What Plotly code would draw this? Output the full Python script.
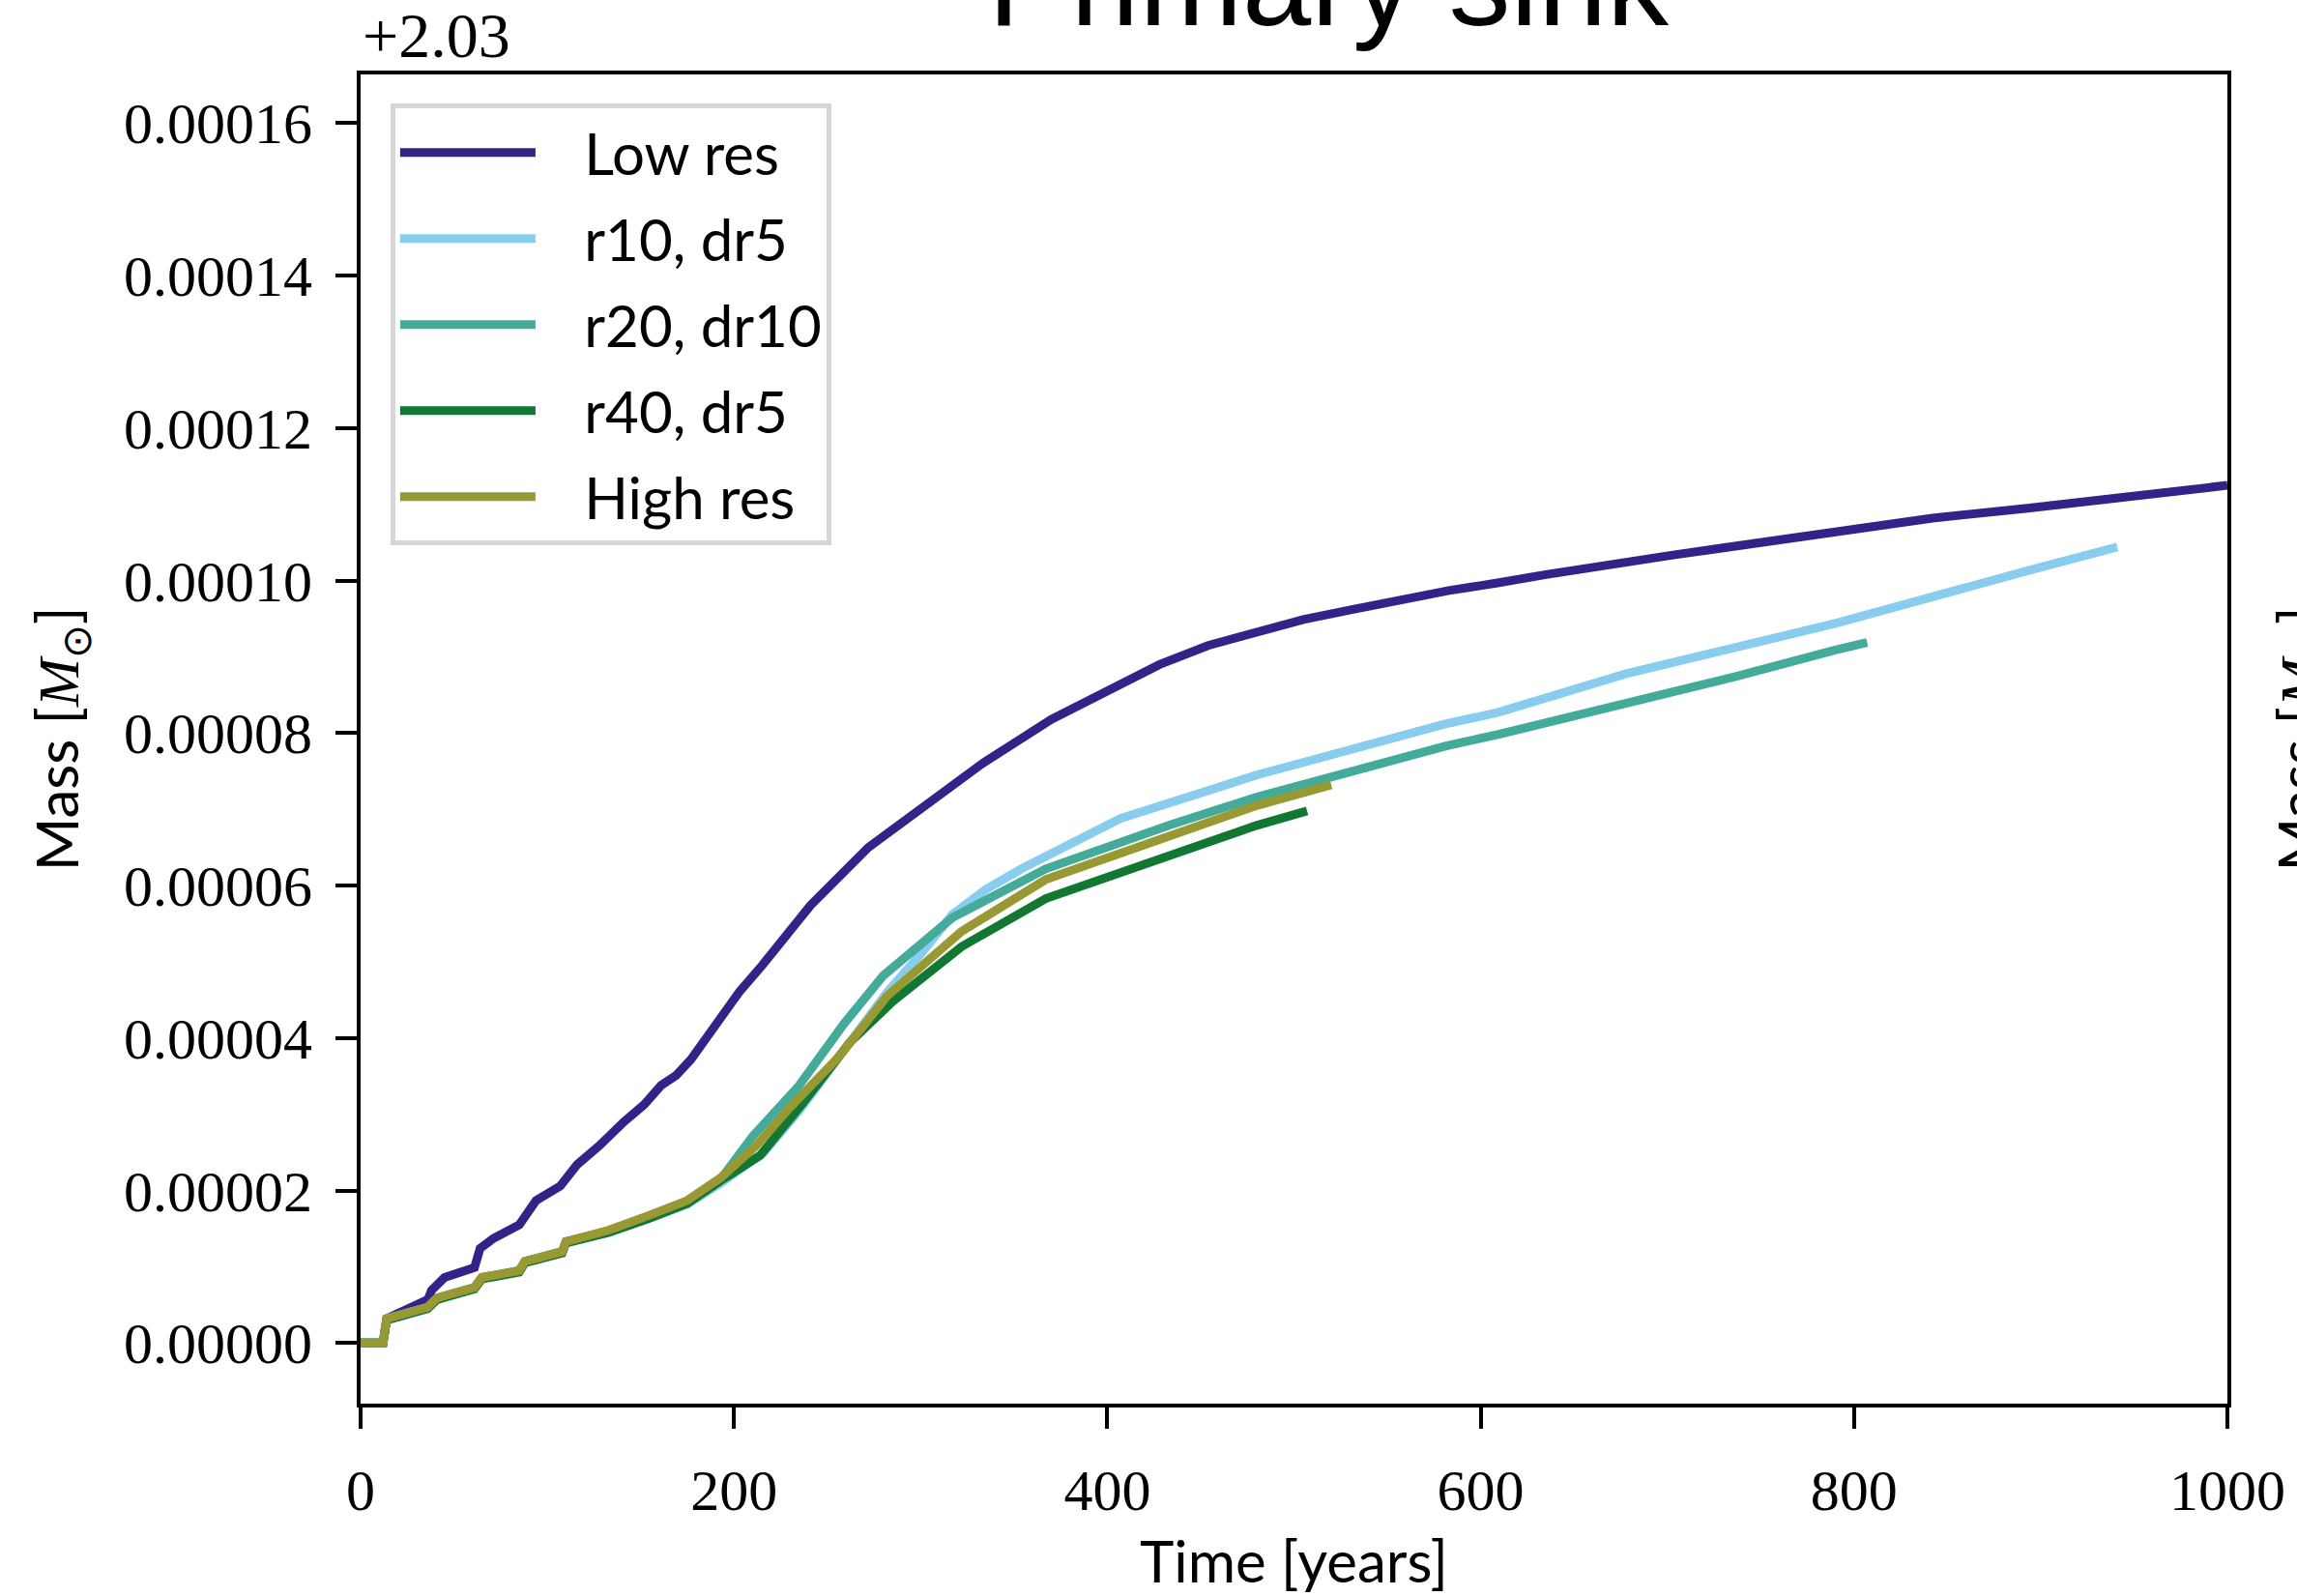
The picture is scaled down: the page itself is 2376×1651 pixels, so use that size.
import plotly.graph_objects as go
import numpy as np

# Mass offsets from 2.03 Msun, in units of 1e-5 Msun
OFFSET = 2.03
SCALE = 1e-5

low_t = [0, 12, 14, 36, 38, 45, 61, 64, 71, 85, 94, 107, 116, 128, 141, 152, 161, 169, 177,
         203, 215, 241, 272, 306, 333, 370, 402, 428, 454, 480, 505, 531, 557, 583, 609, 635,
         704, 773, 842, 893, 1000]
low_m = [0, 0, 0.32, 0.57, 0.69, 0.86, 0.99, 1.24, 1.37, 1.55, 1.87, 2.06, 2.34, 2.59, 2.90,
         3.13, 3.38, 3.51, 3.72, 4.61, 4.95, 5.74, 6.50, 7.10, 7.60, 8.18, 8.59, 8.90, 9.15, 9.33,
         9.49, 9.62, 9.75, 9.87, 9.97, 10.08, 10.34, 10.58, 10.82, 10.95, 11.25]

r10_t = [0, 12, 14, 36, 41, 61, 65, 85, 88, 108, 110, 133, 154, 175, 193, 216, 235, 259,
         282, 300, 317, 335, 354, 407, 473, 480, 581, 609, 678, 738, 764, 790, 893, 941]
r10_m = [0, 0, 0.32, 0.47, 0.59, 0.73, 0.86, 0.95, 1.07, 1.20, 1.33, 1.46, 1.63, 1.82, 2.10,
         2.50, 3.05, 3.85, 4.60, 5.10, 5.62, 5.95, 6.22, 6.88, 7.39, 7.45, 8.12, 8.27, 8.78, 9.13,
         9.28, 9.44, 10.13, 10.44]

r20_t = [0, 12, 14, 36, 41, 61, 65, 85, 88, 108, 110, 133, 154, 175, 193, 210, 235, 259,
         280, 317, 367, 433, 480, 512, 581, 609, 738, 790, 807]
r20_m = [0, 0, 0.32, 0.47, 0.59, 0.73, 0.86, 0.95, 1.07, 1.20, 1.33, 1.47, 1.65, 1.85, 2.15,
         2.71, 3.38, 4.19, 4.82, 5.58, 6.22, 6.79, 7.16, 7.38, 7.83, 7.98, 8.75, 9.09, 9.19]

r40_t = [0, 12, 14, 36, 41, 61, 65, 85, 88, 108, 110, 133, 154, 175, 193, 214, 237, 262,
         285, 322, 367, 446, 480, 507]
r40_m = [0, 0, 0.30, 0.45, 0.57, 0.71, 0.84, 0.93, 1.05, 1.18, 1.31, 1.45, 1.63, 1.83, 2.13,
         2.46, 3.15, 3.94, 4.48, 5.20, 5.83, 6.50, 6.79, 6.98]

high_t = [0, 12, 14, 36, 41, 61, 65, 85, 88, 108, 110, 133, 154, 175, 193, 212, 230, 246,
          256, 282, 322, 367, 433, 480, 520]
high_m = [0, 0, 0.32, 0.47, 0.59, 0.73, 0.86, 0.95, 1.07, 1.20, 1.33, 1.48, 1.67, 1.87, 2.17,
          2.59, 3.09, 3.51, 3.75, 4.55, 5.40, 6.08, 6.63, 7.05, 7.32]

names = ["Low res", "r10, dr5", "r20, dr10", "r40, dr5", "High res"]
colors = ["#332288", "#88CCEE", "#44AA99", "#117733", "#999933"]
series = [(low_t, low_m), (r10_t, r10_m), (r20_t, r20_m), (r40_t, r40_m), (high_t, high_m)]

SANS = "Lato"
SERIF = "Liberation Serif"
GAP = "\u2002\u00a0"  # visual gap between legend line and label

fig = go.Figure()
for i, ((t, m), name, col) in enumerate(zip(series, names, colors)):
    fig.add_trace(go.Scatter(
        x=t, y=np.array(m) * SCALE, mode="lines", name=GAP + name,
        line=dict(color=col, width=9), legendgroup=f"g{i}",
    ))

fig.update_layout(
    width=2376, height=1651,
    margin=dict(l=373, r=70, t=77, b=193),
    paper_bgcolor="white", plot_bgcolor="white",
    showlegend=True,
    legend=dict(
        x=0.016, y=0.978, xanchor="left", yanchor="top",
        bgcolor="white", bordercolor="#d6d6d6", borderwidth=5,
        font=dict(family=SANS, size=60, color="black"),
        traceorder="grouped", tracegroupgap=8,
        itemwidth=140,
    ),
    xaxis=dict(
        range=[0, 1000], tickvals=[0, 200, 400, 600, 800, 1000],
        ticks="outside", ticklen=22, tickwidth=3.5, tickcolor="black",
        showline=True, linewidth=4, linecolor="black", mirror=True,
        showgrid=False, zeroline=False,
        tickfont=dict(family=SERIF, size=60, color="black"),
        ticklabelstandoff=12,
        title=dict(text="Time [years]", font=dict(family=SANS, size=60, color="black"), standoff=22),
    ),
    yaxis=dict(
        range=[-0.795e-5, 16.64e-5], tick0=0, dtick=2e-5, tickformat=".5f",
        ticks="outside", ticklen=22, tickwidth=3.5, tickcolor="black",
        showline=True, linewidth=4, linecolor="black", mirror=True,
        showgrid=False, zeroline=False,
        tickfont=dict(family=SERIF, size=60, color="black"),
        ticklabelstandoff=12,
        title=dict(
            text='Mass [<span style="font-family:Liberation Serif"><i>M</i><sub>⊙</sub></span>]',
            font=dict(family=SANS, size=60, color="black"), standoff=28),
    ),
)

# offset text
fig.add_annotation(text=f"+{OFFSET:.2f}", xref="paper", yref="paper", x=0, y=1,
                   xanchor="left", yanchor="bottom", yshift=2, showarrow=False,
                   font=dict(family=SERIF, size=66, color="black"))
# title (cut at top of image)
fig.add_annotation(text="Primary sink", xref="paper", yref="paper",
                   x=(1376 - 373) / 1933, y=1, xanchor="center", yanchor="bottom",
                   yshift=22, showarrow=False,
                   font=dict(family="Liberation Sans", size=128, color="black"))
# neighbouring panel's y label, cut at right edge
fig.add_annotation(text='Mass [<span style="font-family:Liberation Serif"><i>M</i><sub>⊙</sub></span>]',
                   xref="paper", yref="paper", x=(2384 - 373) / 1933, y=0.5,
                   xanchor="center", yanchor="middle", textangle=-90, showarrow=False,
                   font=dict(family=SANS, size=60, color="black"))

fig.write_html("out.html")
